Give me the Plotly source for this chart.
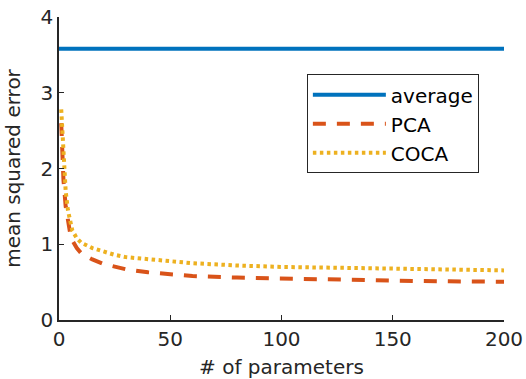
import plotly.graph_objects as go

x_avg = [0, 200]
y_avg = [3.58, 3.58]

x_pts = [1, 2, 3, 4, 5, 6, 8, 10, 15, 20, 25, 30, 40, 50, 60, 80, 100, 125, 150, 175, 200]
pca = [2.6, 1.85, 1.5, 1.3, 1.15, 1.05, 0.95, 0.88, 0.8, 0.74, 0.7, 0.67, 0.63, 0.60, 0.58,
       0.56, 0.545, 0.53, 0.52, 0.51, 0.505]
coca = [2.78, 2.1, 1.7, 1.45, 1.3, 1.18, 1.08, 1.02, 0.95, 0.9, 0.86, 0.83, 0.8, 0.77, 0.75,
        0.72, 0.70, 0.69, 0.675, 0.665, 0.655]

font = "DejaVu Sans"
fig = go.Figure()
fig.add_trace(go.Scatter(x=x_avg, y=y_avg, mode="lines", name="average",
                         line=dict(color="#0072BD", width=4)))
fig.add_trace(go.Scatter(x=x_pts, y=pca, mode="lines", name="PCA",
                         line=dict(color="#D95319", width=4, dash="13px,11px")))
fig.add_trace(go.Scatter(x=x_pts, y=coca, mode="lines", name="COCA",
                         line=dict(color="#EDB120", width=4, dash="3.5px,3.5px")))

axis_common = dict(showline=True, linecolor="#262626", linewidth=1.5, ticks="inside",
                   ticklen=5, tickcolor="#262626", showgrid=False, zeroline=False,
                   tickfont=dict(family=font, size=20, color="#262626"), mirror=False,
                   automargin=False)
fig.update_layout(
    width=526, height=379,
    margin=dict(l=59, r=22, t=17, b=59),
    paper_bgcolor="white", plot_bgcolor="white",
    font=dict(family=font, size=20, color="#262626"),
    xaxis=dict(range=[0, 200], tickvals=[0, 50, 100, 150, 200],
               title=dict(text="# of parameters",
                          font=dict(family=font, size=20, color="#262626")),
               **axis_common),
    yaxis=dict(range=[0, 4], tickvals=[0, 1, 2, 3, 4],
               title=dict(text="mean squared error",
                          font=dict(family=font, size=20, color="#262626")),
               **axis_common),
    legend=dict(x=0.557, y=0.811, xanchor="left", yanchor="top",
                bordercolor="#262626", borderwidth=1, bgcolor="white",
                font=dict(family=font, size=20, color="#000000"),
                tracegroupgap=0, itemwidth=73),
    showlegend=True,
)
fig.write_html("out.html", config={"displayModeBar": False},
               post_script="document.body.style.margin='0';document.body.style.padding='0';")
